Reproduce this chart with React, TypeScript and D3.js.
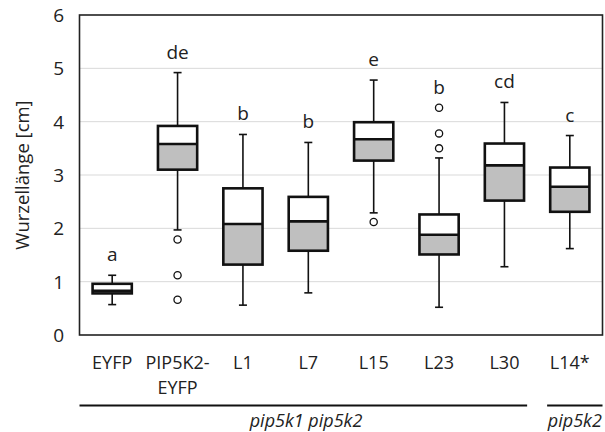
import React from "react";
import { scaleBand, scaleLinear } from "d3";

const categories = ["EYFP", "PIP5K2-EYFP", "L1", "L7", "L15", "L23", "L30", "L14*"];
const labelLines = [["EYFP"], ["PIP5K2-", "EYFP"], ["L1"], ["L7"], ["L15"], ["L23"], ["L30"], ["L14*"]];
const whiskerLow = [0.57, 1.97, 0.56, 0.79, 2.29, 0.52, 1.28, 1.62];
const q1 = [0.78, 3.1, 1.32, 1.58, 3.27, 1.51, 2.52, 2.31];
const medians = [0.83, 3.58, 2.08, 2.13, 3.67, 1.88, 3.18, 2.78];
const q3 = [0.96, 3.92, 2.75, 2.59, 3.99, 2.26, 3.59, 3.14];
const whiskerHigh = [1.12, 4.92, 3.76, 3.61, 4.78, 3.32, 4.36, 3.74];
const outliers = [[], [1.79, 1.12, 0.66], [], [], [2.12], [4.26, 3.78, 3.5], [], []];
const letters = ["a", "de", "b", "b", "e", "b", "cd", "c"];
const yTicks = [0, 1, 2, 3, 4, 5, 6];
const groups = [
  { label: "pip5k1 pip5k2", from: 0, to: 6 },
  { label: "pip5k2", from: 7, to: 7 },
];

const WIDTH = 605;
const HEIGHT = 432;
const MARGIN = { top: 15, right: 2.5, bottom: 97, left: 79.5 };
const FONT = "'Open Sans', sans-serif";

export default function App() {
  const x = scaleBand<string>()
    .domain(categories)
    .range([MARGIN.left, WIDTH - MARGIN.right]);
  const y = scaleLinear()
    .domain([0, 6])
    .range([HEIGHT - MARGIN.bottom, MARGIN.top]);

  const boxW = x.bandwidth() * 0.6;
  const capW = 8;
  const plotBottom = HEIGHT - MARGIN.bottom;

  return (
    <svg width={WIDTH} height={HEIGHT} style={{ position: "absolute", left: 0, top: 0 }} fontFamily={FONT}>
      <rect width={WIDTH} height={HEIGHT} fill="#fff" />

      {/* gridlines + y ticks */}
      {yTicks.map((t) => (
        <g key={t}>
          {t > 0 && t < 6 && (
            <line x1={MARGIN.left} x2={WIDTH - MARGIN.right} y1={y(t)} y2={y(t)} stroke="#d9d9d9" strokeWidth={1} />
          )}
          <text x={64} y={y(t)} dy="0.36em" textAnchor="end" fontSize={19} fill="#222">
            {t}
          </text>
        </g>
      ))}

      <text
        transform={`translate(22,${(MARGIN.top + plotBottom) / 2}) rotate(-90)`}
        textAnchor="middle"
        dy="0.36em"
        fontSize={18.5}
        fill="#222"
      >
        Wurzellänge [cm]
      </text>

      {/* boxes */}
      {categories.map((c, i) => {
        const cx = x(c)! + x.bandwidth() / 2;
        const left = cx - boxW / 2;
        return (
          <g key={c}>
            <line x1={cx} x2={cx} y1={y(q3[i])} y2={y(whiskerHigh[i])} stroke="#111" strokeWidth={1.6} />
            <line x1={cx} x2={cx} y1={y(q1[i])} y2={y(whiskerLow[i])} stroke="#111" strokeWidth={1.6} />
            <line x1={cx - capW / 2} x2={cx + capW / 2} y1={y(whiskerHigh[i])} y2={y(whiskerHigh[i])} stroke="#111" strokeWidth={1.6} />
            <line x1={cx - capW / 2} x2={cx + capW / 2} y1={y(whiskerLow[i])} y2={y(whiskerLow[i])} stroke="#111" strokeWidth={1.6} />
            <rect x={left} width={boxW} y={y(medians[i])} height={y(q1[i]) - y(medians[i])} fill="#bfbfbf" />
            <rect x={left} width={boxW} y={y(q3[i])} height={y(medians[i]) - y(q3[i])} fill="#fff" />
            <rect
              x={left}
              width={boxW}
              y={y(q3[i])}
              height={y(q1[i]) - y(q3[i])}
              fill="none"
              stroke="#111"
              strokeWidth={2.6}
            />
            <line x1={left} x2={left + boxW} y1={y(medians[i])} y2={y(medians[i])} stroke="#111" strokeWidth={2.6} />
            {outliers[i].map((o, k) => (
              <circle key={k} cx={cx} cy={y(o)} r={3.6} fill="#fff" stroke="#111" strokeWidth={1.3} />
            ))}
            <text
              x={cx}
              y={y(Math.max(whiskerHigh[i], ...outliers[i])) - 14}
              textAnchor="middle"
              fontSize={19}
              fill="#222"
            >
              {letters[i]}
            </text>
            {labelLines[i].map((ln, k) => (
              <text key={k} x={cx} y={363 + k * 24.5} dy="0.36em" textAnchor="middle" fontSize={18} fill="#222">
                {ln}
              </text>
            ))}
          </g>
        );
      })}

      {/* frame */}
      <rect
        x={MARGIN.left}
        y={MARGIN.top}
        width={WIDTH - MARGIN.right - MARGIN.left}
        height={plotBottom - MARGIN.top}
        fill="none"
        stroke="#222"
        strokeWidth={1.6}
      />

      {/* genotype groups */}
      {groups.map((g, i) => {
        const x0 = i === 0 ? MARGIN.left : x(categories[g.from])! + 10;
        const x1 = i === 0 ? x(categories[g.to])! + x.bandwidth() - 10 : WIDTH - MARGIN.right;
        return (
          <g key={g.label}>
            <line x1={x0} x2={x1} y1={405.5} y2={405.5} stroke="#111" strokeWidth={2} />
            <text
              x={i === 0 ? 306 : (x0 + x1) / 2}
              y={421}
              dy="0.36em"
              textAnchor="middle"
              fontSize={18}
              fontStyle="italic"
              fill="#222"
            >
              {g.label}
            </text>
          </g>
        );
      })}
    </svg>
  );
}
